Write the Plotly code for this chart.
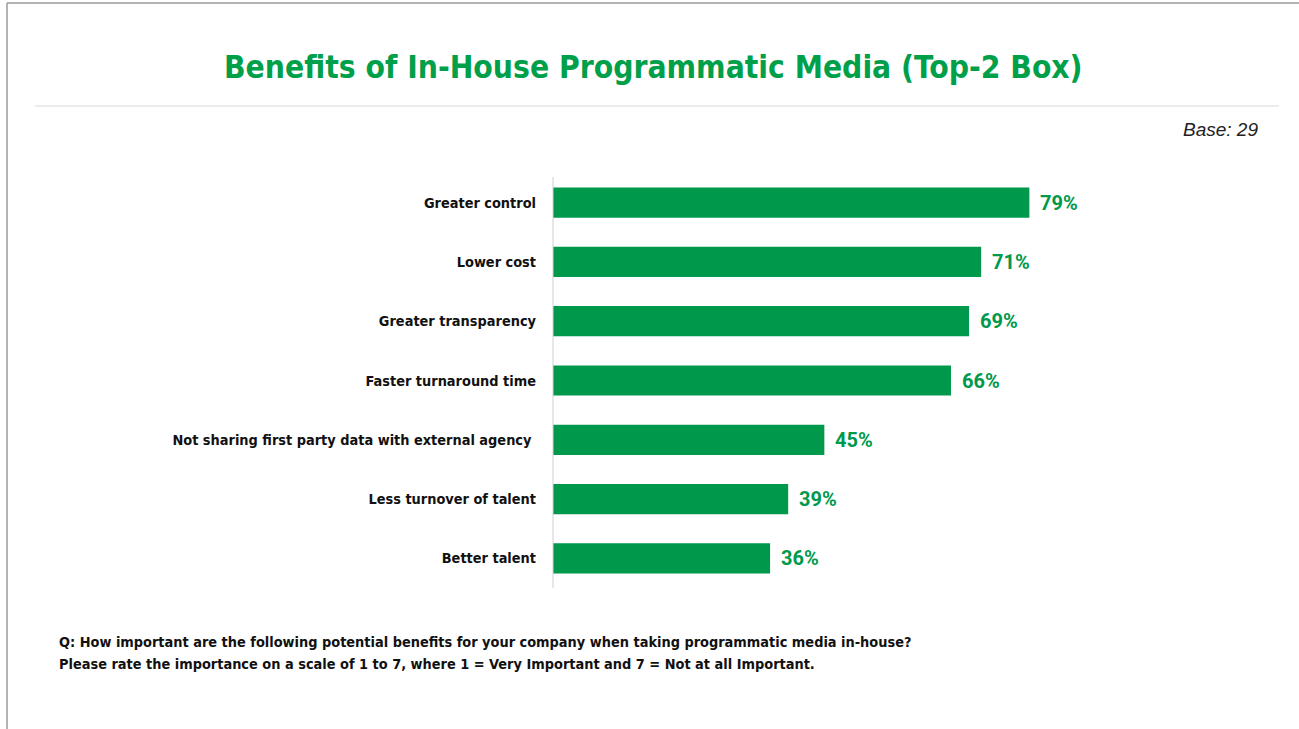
import plotly.graph_objects as go

# Survey results: share of respondents rating each benefit in the top-2 box
benefits = [
    "Greater control",
    "Lower cost",
    "Greater transparency",
    "Faster turnaround time",
    "Not sharing first party data with external agency ",
    "Less turnover of talent",
    "Better talent",
]
top2_pct = [79, 71, 69, 66, 45, 39, 36]

title_text = "Benefits of In-House Programmatic Media (Top-2 Box)"
base_text = "Base: 29"
question_lines = [
    "Q: How important are the following potential benefits for your company when taking programmatic media in-house?",
    "Please rate the importance on a scale of 1 to 7, where 1 = Very Important and 7 = Not at all Important.",
]

W, H = 1299, 729
L, R, T, B = 553, 1299 - 1156, 173, 729 - 588

GREEN = "#00994C"
NARROW = "DejaVu Sans Condensed, Arial Narrow, sans-serif"


def px_x(x):
    return (x - L) / (W - L - R)


def px_y(y):
    return 1 - (y - T) / (H - T - B)


fig = go.Figure(
    go.Bar(
        x=top2_pct,
        y=benefits,
        orientation="h",
        marker=dict(color=GREEN, line=dict(width=0)),
        width=0.51,
        hoverinfo="x+y",
    )
)

annotations = []
for b, v in zip(benefits, top2_pct):
    annotations.append(dict(
        x=v, y=b, xref="x", yref="y", text=f"<b>{v}%</b>", showarrow=False,
        xanchor="left", yanchor="middle", xshift=9,
        font=dict(family="Roboto, Arial, sans-serif", size=20, color=GREEN),
    ))

annotations.append(dict(
    x=px_x(653), y=px_y(67), xref="paper", yref="paper",
    text=f"<b>{title_text}</b>", showarrow=False, xanchor="center", yanchor="middle",
    font=dict(family=NARROW, size=31.5, color="#00A04A"),
))
annotations.append(dict(
    x=px_x(1260), y=px_y(130), xref="paper", yref="paper",
    text=f"<i>{base_text}</i>", showarrow=False, xanchor="right", yanchor="middle",
    font=dict(family="Liberation Sans, Arial, sans-serif", size=19, color="#222222"),
))
for line_text, y_px in zip(question_lines, [642, 664]):
    annotations.append(dict(
        x=px_x(57), y=px_y(y_px), xref="paper", yref="paper",
        text=f"<b>{line_text}</b>", showarrow=False,
        xanchor="left", yanchor="middle", align="left",
        font=dict(family=NARROW, size=14.4, color="#111111"),
    ))

shapes = [
    # slide frame (left and top edges)
    dict(type="line", xref="paper", yref="paper", x0=px_x(7), x1=px_x(7), y0=px_y(3), y1=px_y(729),
         line=dict(color="#9a9a9a", width=1.5)),
    dict(type="line", xref="paper", yref="paper", x0=px_x(7), x1=px_x(1299), y0=px_y(3), y1=px_y(3),
         line=dict(color="#9a9a9a", width=1.5)),
    # rule under the title
    dict(type="line", xref="paper", yref="paper", x0=px_x(35), x1=px_x(1279), y0=px_y(106), y1=px_y(106),
         line=dict(color="#d9d9d9", width=1)),
    # category axis line
    dict(type="line", xref="paper", yref="paper", x0=0, x1=0, y0=px_y(177), y1=px_y(588),
         line=dict(color="#d0d0d0", width=1)),
]

fig.update_layout(
    width=W, height=H, autosize=False,
    margin=dict(l=L, r=R, t=T, b=B),
    paper_bgcolor="white", plot_bgcolor="white",
    showlegend=False,
    annotations=annotations,
    shapes=shapes,
    xaxis=dict(range=[0, 100], visible=False, fixedrange=True),
    yaxis=dict(
        categoryorder="array", categoryarray=benefits, autorange="reversed",
        tickmode="array", tickvals=benefits, ticktext=[f"<b>{b}</b>" for b in benefits],
        showline=False, showgrid=False, zeroline=False, ticks="", ticklabelstandoff=16,
        tickfont=dict(family=NARROW, size=14.4, color="#111111"),
        fixedrange=True,
    ),
)

fig.write_html("out.html")
